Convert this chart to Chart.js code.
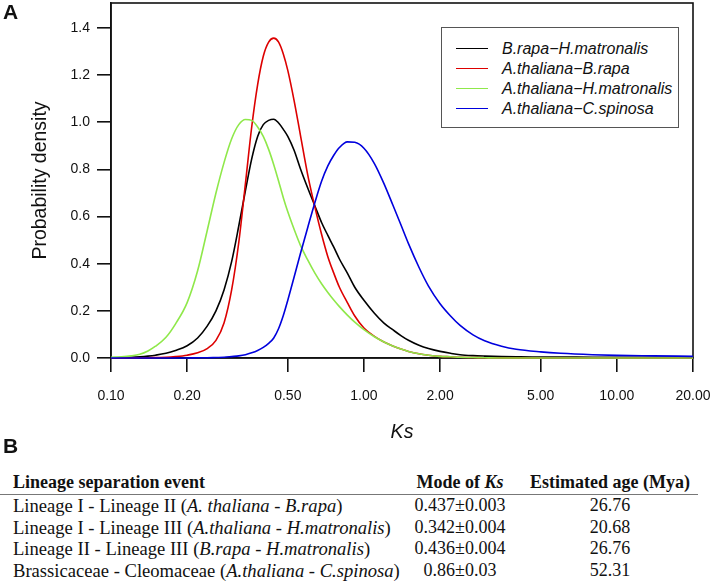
<!DOCTYPE html>
<html><head><meta charset="utf-8">
<script src="https://cdn.jsdelivr.net/npm/chart.js@4/dist/chart.umd.min.js"></script>
<style>
html,body{margin:0;padding:0;background:#fff;}
body{width:712px;height:581px;position:relative;overflow:hidden;font-family:"Liberation Sans",Arial,sans-serif;color:#111;}
#cv{position:absolute;left:0;top:0;}
.panel{position:absolute;font-weight:bold;font-size:21px;line-height:21px;}
#legend{position:absolute;left:441px;top:27px;width:238px;height:101px;border:1px solid #555;box-sizing:border-box;background:#fff;}
.li{position:absolute;left:0;width:236px;height:20px;}
.li .sw{position:absolute;left:14px;top:9px;width:32px;height:0;border-top:1.6px solid #000;}
.li .tx{position:absolute;left:60px;top:0;line-height:20px;font-style:italic;font-size:16px;white-space:nowrap;}
.tb{position:absolute;font-family:"Liberation Serif","Times New Roman",serif;font-size:18px;line-height:21.5px;white-space:nowrap;color:#111;}
.c1{left:13px;}
.c1r{font-size:18.6px;}
.c2{left:400px;width:120px;text-align:center;}
.c3{left:530px;width:160px;text-align:center;}
.hd{font-weight:bold;}
#rule{position:absolute;left:0;top:494px;width:698px;height:0;border-top:1.5px solid #777;}
</style>
</head><body>
<canvas id="cv" width="712" height="450"></canvas>
<div class="panel" style="left:3px;top:1px;">A</div>
<div class="panel" style="left:3px;top:435px;">B</div>
<div id="legend"></div>
<div id="table"></div>
<div id="rule"></div>
<script>
// ---- chart data ----
const ksGrid = [0.10,0.11,0.12,0.13,0.14,0.15,0.165,0.18,0.20,0.22,0.24,0.26,0.28,0.30,0.32,0.34,0.36,0.38,0.40,0.42,0.44,0.46,0.48,0.50,0.53,0.56,0.60,0.64,0.68,0.72,0.76,0.80,0.86,0.92,1.0,1.1,1.2,1.3,1.4,1.5,1.65,1.8,2.0,2.2,2.4,2.7,3.0,3.5,4.0,5.0,6.0,8.0,10,14,20];
const brapaHmatronalis = [0.001,0.002,0.003,0.005,0.008,0.012,0.02,0.032,0.052,0.085,0.135,0.20,0.29,0.41,0.56,0.71,0.845,0.94,0.99,1.008,1.013,0.997,0.97,0.94,0.88,0.805,0.72,0.645,0.575,0.52,0.47,0.42,0.36,0.30,0.245,0.19,0.148,0.12,0.095,0.075,0.054,0.04,0.028,0.02,0.014,0.01,0.008,0.006,0.005,0.004,0.004,0.003,0.003,0.003,0.003];
const athalianaBrapa = [0,0,0,0.001,0.001,0.002,0.003,0.006,0.012,0.022,0.04,0.075,0.15,0.29,0.49,0.74,0.98,1.16,1.28,1.34,1.357,1.34,1.29,1.22,1.09,0.95,0.775,0.64,0.525,0.43,0.36,0.30,0.235,0.178,0.127,0.092,0.068,0.051,0.038,0.028,0.018,0.012,0.007,0.005,0.003,0.002,0.001,0,0,0,0,0,0,0,0];
const athalianaHmatronalis = [0.003,0.005,0.009,0.016,0.03,0.05,0.088,0.145,0.235,0.37,0.54,0.70,0.83,0.93,0.99,1.012,1.008,0.98,0.94,0.885,0.82,0.75,0.68,0.62,0.545,0.48,0.415,0.36,0.315,0.278,0.246,0.218,0.182,0.152,0.12,0.09,0.068,0.051,0.038,0.028,0.018,0.012,0.007,0.005,0.003,0.002,0.001,0,0,0,0,0,0,0,0];
const athalianaCspinosa = [0,0,0,0,0,0,0,0,0,0.001,0.001,0.002,0.003,0.006,0.009,0.014,0.022,0.032,0.045,0.062,0.085,0.125,0.18,0.245,0.345,0.44,0.555,0.66,0.75,0.815,0.86,0.893,0.917,0.915,0.89,0.825,0.74,0.65,0.565,0.485,0.385,0.305,0.23,0.178,0.138,0.098,0.073,0.05,0.037,0.026,0.02,0.014,0.011,0.009,0.007];
const seriesNames = ["B.rapa\u2212H.matronalis","A.thaliana\u2212B.rapa","A.thaliana\u2212H.matronalis","A.thaliana\u2212C.spinosa"];
const seriesColors = ["#000000","#dd0000","#8fe84a","#0000dd"];
const xTickValues = [0.1,0.2,0.5,1,2,5,10,20];
const yTickValues = [0,0.2,0.4,0.6,0.8,1.0,1.2,1.4];

// ---- table data ----
const tableHeader = ["Lineage separation event", "Mode of <i>Ks</i>", "Estimated age (Mya)"];
const eventPlain = ["Lineage I - Lineage II", "Lineage I - Lineage III", "Lineage II - Lineage III", "Brassicaceae - Cleomaceae"];
const eventSpecies = ["A. thaliana - B.rapa", "A.thaliana - H.matronalis", "B.rapa - H.matronalis", "A.thaliana - C.spinosa"];
const ksModes = ["0.437\u00b10.003", "0.342\u00b10.004", "0.436\u00b10.004", "0.86\u00b10.03"];
const agesMya = ["26.76", "20.68", "26.76", "52.31"];

const allSeries = [brapaHmatronalis, athalianaBrapa, athalianaHmatronalis, athalianaCspinosa];

// legend (HTML)
const leg = document.getElementById('legend');
seriesNames.forEach((n,i)=>{
  const d=document.createElement('div'); d.className='li'; d.style.top=(11+i*20)+'px';
  d.innerHTML='<span class="sw" style="border-top-color:'+seriesColors[i]+'"></span><span class="tx">'+n+'</span>';
  leg.appendChild(d);
});

// table (HTML)
const tbl = document.getElementById('table');
function addCell(cls, top, html){ const d=document.createElement('div'); d.className='tb '+cls; d.style.top=top+'px'; d.innerHTML=html; tbl.appendChild(d); }
addCell('c1 hd',472,tableHeader[0]); addCell('c2 hd',472,tableHeader[1]); addCell('c3 hd',472,tableHeader[2]);
eventPlain.forEach((e,i)=>{
  const top = 495 + i*21.5;
  addCell('c1 c1r', top, e+' (<i>'+eventSpecies[i]+'</i>)');
  addCell('c2', top, ksModes[i]);
  addCell('c3', top, agesMya[i]);
});

const FONT = "'Liberation Sans', Arial, sans-serif";
const framePlugin = {id:'frame', beforeDatasetsDraw(chart){ const {ctx, chartArea:a}=chart; ctx.save(); ctx.strokeStyle='#111'; ctx.lineWidth=1.6; ctx.strokeRect(a.left,a.top,a.right-a.left,a.bottom-a.top); ctx.restore(); }};

new Chart(document.getElementById('cv'), {
  type:'line',
  data:{ datasets: allSeries.map((s,i)=>({
    label: seriesNames[i],
    data: ksGrid.map((x,j)=>({x:x, y:s[j]})),
    borderColor: seriesColors[i], backgroundColor: seriesColors[i],
    borderWidth:1.6, pointRadius:0, fill:false, cubicInterpolationMode:'monotone',
    order: 4-i, clip:false
  }))},
  options:{
    responsive:false, animation:false, devicePixelRatio:1,
    layout:{padding:{top:3,right:19,bottom:0,left:0}},
    plugins:{legend:{display:false}, tooltip:{enabled:false}},
    scales:{
      x:{type:'logarithmic', min:0.1, max:20,
        afterBuildTicks: s=>{ s.ticks = xTickValues.map(v=>({value:v})); },
        afterFit: s=>{ s.height=92; s.paddingLeft=0; s.paddingRight=0; },
        ticks:{autoSkip:false, maxRotation:0, padding:16, color:'#111', font:{family:FONT,size:14}, callback:v=>Number(v).toFixed(2)},
        grid:{drawOnChartArea:false, drawTicks:true, tickLength:14, color:'#111', lineWidth:1.6},
        border:{display:true, color:'#111', width:1.6},
        title:{display:true, text:'Ks', color:'#111', font:{family:FONT,size:19.5,style:'italic'}, padding:{top:0,bottom:5.6}}
      },
      y:{type:'linear', min:0, max:1.506,
        afterBuildTicks: s=>{ s.ticks = yTickValues.map(v=>({value:v})); },
        afterFit: s=>{ s.width=111; s.paddingTop=0; s.paddingBottom=0; },
        ticks:{padding:7, color:'#111', font:{family:FONT,size:14}, callback:v=>Number(v).toFixed(1)},
        grid:{drawOnChartArea:false, drawTicks:true, tickLength:14, color:'#111', lineWidth:1.6},
        border:{display:true, color:'#111', width:1.6},
        title:{display:true, text:'Probability density', color:'#111', font:{family:FONT,size:19.5}, padding:{top:28.6,bottom:0}}
      }
    }
  },
  plugins:[framePlugin]
});
</script>
</body></html>
